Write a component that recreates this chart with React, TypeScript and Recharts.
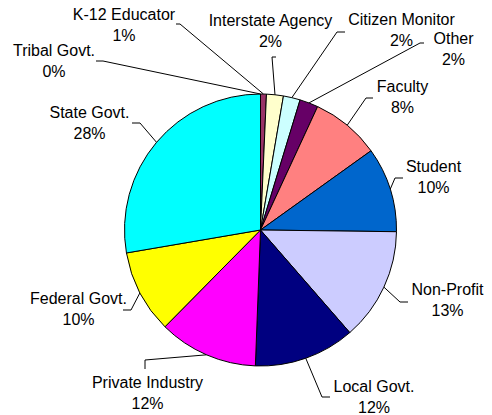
import { Cell, Pie, PieChart } from "recharts";

// Kategorien im Uhrzeigersinn ab 12 Uhr (wie im Original-Excel-Diagramm)
const categories = [
  "Tribal Govt.",
  "K-12 Educator",
  "Interstate Agency",
  "Citizen Monitor",
  "Other",
  "Faculty",
  "Student",
  "Non-Profit",
  "Local Govt.",
  "Private Industry",
  "Federal Govt.",
  "State Govt.",
];
const shares = [0, 0.7, 2.0, 2.0, 2.2, 8.2, 10.1, 13.4, 12.0, 11.8, 9.9, 27.7];
const colors = [
  "#9999FF", "#993366", "#FFFFCC", "#CCFFFF", "#660066", "#FF8080",
  "#0066CC", "#CCCCFF", "#000080", "#FF00FF", "#FFFF00", "#00FFFF",
];

// Beschriftungs-Layout (Knickpunkt, Ende der Führungslinie, Textposition)
const labelLayout: Record<string, { elbow: [number, number]; end: [number, number]; tx: number; ty: number }> = {
  "Tribal Govt.": { elbow: [103, 61], end: [96, 61], tx: 54, ty: 56 },
  "K-12 Educator": { elbow: [180, 24], end: [176, 24], tx: 124, ty: 20 },
  "Interstate Agency": { elbow: [272, 57], end: [276, 57], tx: 270.5, ty: 26 },
  "Citizen Monitor": { elbow: [337, 32], end: [345, 32], tx: 401.5, ty: 25 },
  Other: { elbow: [420, 43], end: [424, 43], tx: 453.5, ty: 44 },
  Faculty: { elbow: [366, 98], end: [373, 98], tx: 402.5, ty: 92 },
  Student: { elbow: [395, 178], end: [403, 178], tx: 433.5, ty: 172 },
  "Non-Profit": { elbow: [400, 302], end: [408, 302], tx: 447.5, ty: 295 },
  "Local Govt.": { elbow: [322, 397], end: [330, 397], tx: 374, ty: 392 },
  "Private Industry": { elbow: [145, 360], end: [145, 369], tx: 147.5, ty: 388 },
  "Federal Govt.": { elbow: [131, 310], end: [123, 310], tx: 78.5, ty: 304 },
  "State Govt.": { elbow: [140, 123], end: [132, 123], tx: 89.5, ty: 118 },
};

const data = categories.map((name, i) => ({ name, value: shares[i] }));
const RAD = Math.PI / 180;

function renderLabel(props: any) {
  const { cx, cy, midAngle, outerRadius, name, value } = props;
  const l = labelLayout[name];
  if (!l) return null;
  const sx = cx + outerRadius * Math.cos(-midAngle * RAD);
  const sy = cy + outerRadius * Math.sin(-midAngle * RAD);
  return (
    <g>
      <polyline
        points={`${sx},${sy} ${l.elbow[0]},${l.elbow[1]} ${l.end[0]},${l.end[1]}`}
        fill="none"
        stroke="#000"
        strokeWidth={1}
      />
      <text x={l.tx} y={l.ty} textAnchor="middle" fontSize={16} fill="#000" fontFamily="'Liberation Sans', Arial, sans-serif">
        {name}
      </text>
      <text x={l.tx} y={l.ty + 20.5} textAnchor="middle" fontSize={16} fill="#000" fontFamily="'Liberation Sans', Arial, sans-serif">
        {Math.round(value)}%
      </text>
    </g>
  );
}

export default function App() {
  return (
    <div style={{ position: "absolute", left: 0, top: 0, width: 492, height: 415, background: "#fff" }}>
      <PieChart width={492} height={415} margin={{ top: 0, right: 0, bottom: 0, left: 0 }}>
        <Pie
          data={data}
          dataKey="value"
          nameKey="name"
          cx={260.5}
          cy={230}
          outerRadius={136}
          startAngle={90}
          endAngle={-270}
          stroke="#000"
          strokeWidth={1}
          label={renderLabel}
          labelLine={false}
          isAnimationActive={false}
        >
          {data.map((d, i) => (
            <Cell key={d.name} fill={colors[i]} />
          ))}
        </Pie>
      </PieChart>
    </div>
  );
}
